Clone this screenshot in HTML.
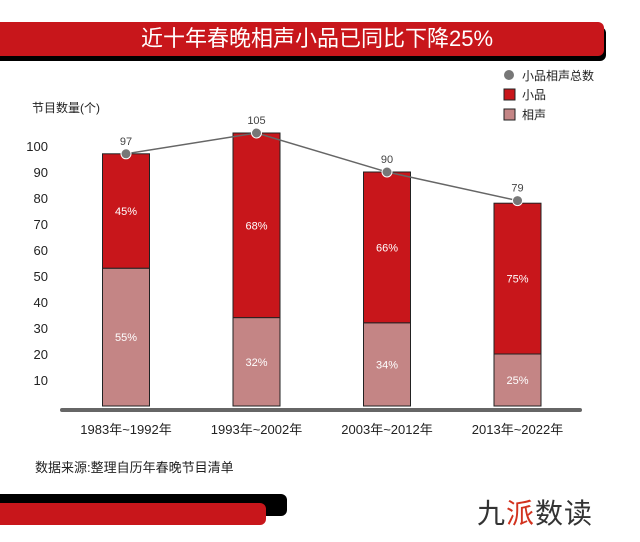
<!DOCTYPE html>
<html><head><meta charset="utf-8"><style>
body{margin:0;width:640px;height:542px;background:#fff;overflow:hidden;font-family:"Liberation Sans","Noto Sans CJK SC",sans-serif;position:relative}
.a{position:absolute}
</style></head><body>
<div class="a" style="left:0;top:27px;width:606px;height:34px;background:#000;border-radius:0 6px 6px 0"></div>
<div class="a" style="left:0;top:22px;width:604px;height:34px;background:#c8161b;border-radius:0 6px 6px 0;color:#fff;font-size:22px;line-height:34px;text-align:center;padding-left:30px;box-sizing:border-box">近十年春晚相声小品已同比下降25%</div>
<svg class="a" style="left:0;top:0" width="640" height="542" id="chart"></svg>
<div class="a" style="left:35px;top:457px;font-size:13px;color:#222">数据来源:整理自历年春晚节目清单</div>
<div class="a" style="left:0;top:494px;width:287px;height:22px;background:#000;border-radius:0 6px 6px 0"></div>
<div class="a" style="left:0;top:503px;width:266px;height:22px;background:#c8161b;border-radius:0 6px 6px 0"></div>
<div class="a" style="left:477px;top:492px;font-size:28px;color:#333;letter-spacing:1px">九<span style="color:#d2321e">派</span>数读</div>
<script>
const categories=["1983年~1992年","1993年~2002年","2003年~2012年","2013年~2022年"];
const xiangsheng=[53,34,32,20];
const xiaopin=[44,71,58,58];
const totals=[97,105,90,79];
const xiangshengPct=["55%","32%","34%","25%"];
const xiaopinPct=["45%","68%","66%","75%"];
const yTicks=[10,20,30,40,50,60,70,80,90,100];
const svg=document.getElementById('chart');const NS="http://www.w3.org/2000/svg";
function y(v){return 406-v*2.6}
function x(i){return 126+i*130.5}
function mk(t,a,txt){const e=document.createElementNS(NS,t);for(const k in a)e.setAttribute(k,a[k]);if(txt!==undefined)e.textContent=txt;svg.appendChild(e);return e}
let e=mk('text',{x:32,y:112,'font-size':12,fill:'#222'},'节目数量(个)');

yTicks.forEach(v=>{const t=mk('text',{x:48,y:y(v)+5,'font-size':13,fill:'#222','text-anchor':'end'},v);
});
categories.forEach((c,i)=>{
 const cx=x(i),w=47;
 const r1=mk('rect',{x:cx-w/2,y:y(xiangsheng[i]),width:w,height:xiangsheng[i]*2.6,fill:'#c48585',stroke:'#222','stroke-width':1});
 
 const r2=mk('rect',{x:cx-w/2,y:y(xiangsheng[i]+xiaopin[i]),width:w,height:xiaopin[i]*2.6,fill:'#c8161b',stroke:'#222','stroke-width':1});
 
 const p1=mk('text',{x:cx,y:y(xiangsheng[i]/2)+4,'font-size':11,fill:'#fff','text-anchor':'middle'},xiangshengPct[i]);
 
 const p2=mk('text',{x:cx,y:y(xiangsheng[i]+xiaopin[i]/2)+4,'font-size':11,fill:'#fff','text-anchor':'middle'},xiaopinPct[i]);
 
 const xl=mk('text',{x:cx,y:434,'font-size':13,fill:'#222','text-anchor':'middle'},c);
 
});
e=mk('line',{x1:62,y1:410,x2:580,y2:410,stroke:'#666','stroke-width':4,'stroke-linecap':'round'});

e=mk('polyline',{points:totals.map((v,i)=>x(i)+','+y(v)).join(' '),fill:'none',stroke:'#666','stroke-width':1.5});

totals.forEach((v,i)=>{
 const c=mk('circle',{cx:x(i),cy:y(v),r:5,fill:'#777',stroke:'#fff','stroke-width':1});
 
 const t=mk('text',{x:x(i),y:y(v)-9,'font-size':11,fill:'#444','text-anchor':'middle'},v);
 
});
e=mk('circle',{cx:509,cy:75,r:5,fill:'#777'});
e=mk('text',{x:522,y:80,'font-size':12,fill:'#222'},'小品相声总数');
e=mk('rect',{x:504,y:89,width:11,height:11,fill:'#c8161b',stroke:'#222'});
e=mk('text',{x:522,y:99,'font-size':12,fill:'#222'},'小品');
e=mk('rect',{x:504,y:109,width:11,height:11,fill:'#c48585',stroke:'#222'});
e=mk('text',{x:522,y:119,'font-size':12,fill:'#222'},'相声');
</script>
</body></html>
